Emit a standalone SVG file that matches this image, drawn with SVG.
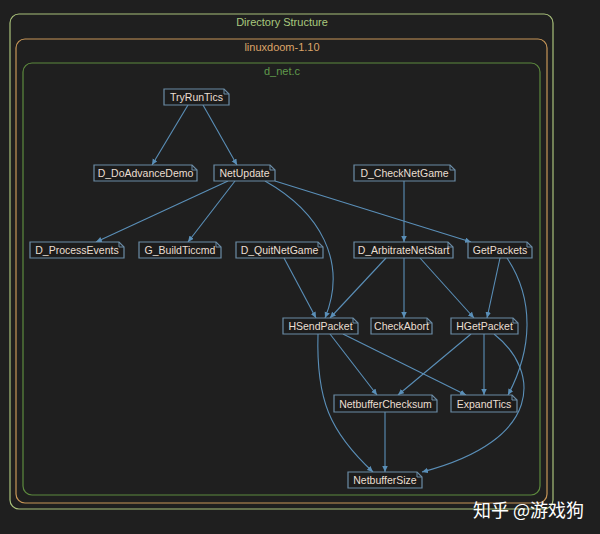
<svg xmlns="http://www.w3.org/2000/svg" width="600" height="534" viewBox="0 0 600 534">
<defs>
<style>
.bg{fill:#1f1f1f}
.cl{fill:none;stroke-width:1.2}
.ct{font-family:"Liberation Sans",Arial,sans-serif;font-size:11px;text-anchor:middle}
.nb{fill:#1c1c1c;stroke:#6b8ca6;stroke-width:1.2}
.nf{fill:none;stroke:#6b8ca6;stroke-width:1}
.nt{font-family:"Liberation Sans",Arial,sans-serif;font-size:10.5px;fill:#eadfd2;text-anchor:middle}
.e{fill:none;stroke:#5a8fb8;stroke-width:1.1;marker-end:url(#ah)}
</style>
<marker id="ah" markerUnits="userSpaceOnUse" markerWidth="7" markerHeight="6" refX="6" refY="2.75" orient="auto">
<path d="M0,0 L6,2.75 L0,5.5 z" fill="#5a8fb8"/>
</marker>
</defs>
<rect class="bg" x="0" y="0" width="600" height="534"/>
<g id="cluster-dir">
<rect class="cl" x="10" y="14" width="543" height="495" rx="9" stroke="#a8c07a"/>
<text class="ct" x="282" y="26" fill="#a9c97e">Directory Structure</text>
</g>
<g id="cluster-linuxdoom">
<rect class="cl" x="16" y="39" width="531" height="464" rx="9" stroke="#c79658"/>
<text class="ct" x="282" y="51" fill="#dca468">linuxdoom-1.10</text>
</g>
<g id="cluster-dnet">
<rect class="cl" x="23" y="63" width="517" height="432" rx="9" stroke="#5d8a3e"/>
<text class="ct" x="282" y="75" fill="#5f9a4c">d_net.c</text>
</g>
<g id="edges">
<path class="e" d="M188,105 L152,165"/>
<path class="e" d="M203,105 L237,165"/>
<path class="e" d="M228,181 L96,242"/>
<path class="e" d="M235,181 L188,242"/>
<path class="e" d="M265,181 C320,212 348,262 325,318"/>
<path class="e" d="M275,181 L471,242"/>
<path class="e" d="M404,181 L404,242"/>
<path class="e" d="M284,258 L316,318"/>
<path class="e" d="M386,258 L330,318"/>
<path class="e" d="M404,258 L404,318"/>
<path class="e" d="M420,258 L474,318"/>
<path class="e" d="M500,258 L487,318"/>
<path class="e" d="M507,258 C535,300 532,350 508,395"/>
<path class="e" d="M330,334 L377,395"/>
<path class="e" d="M343,334 L466,395"/>
<path class="e" d="M318,334 C316,400 330,432 373,472"/>
<path class="e" d="M471,334 L398,395"/>
<path class="e" d="M484,334 L484,395"/>
<path class="e" d="M494,334 C540,370 545,440 422,472"/>
<path class="e" d="M385,412 L385,472"/>
</g>
<g id="TryRunTics"><path class="nb" d="M164,89 H224 L229,94 V105 H164 Z"/><path class="nf" d="M224,89 V94 H229"/><text class="nt" x="196.5" y="101">TryRunTics</text></g>
<g id="D_DoAdvanceDemo"><path class="nb" d="M94,165 H192 L197,170 V181 H94 Z"/><path class="nf" d="M192,165 V170 H197"/><text class="nt" x="145.5" y="177">D_DoAdvanceDemo</text></g>
<g id="NetUpdate"><path class="nb" d="M214,165 H270 L275,170 V181 H214 Z"/><path class="nf" d="M270,165 V170 H275"/><text class="nt" x="244.5" y="177">NetUpdate</text></g>
<g id="D_CheckNetGame"><path class="nb" d="M354,165 H450 L455,170 V181 H354 Z"/><path class="nf" d="M450,165 V170 H455"/><text class="nt" x="404.5" y="177">D_CheckNetGame</text></g>
<g id="D_ProcessEvents"><path class="nb" d="M30,242 H119 L124,247 V258 H30 Z"/><path class="nf" d="M119,242 V247 H124"/><text class="nt" x="77" y="254">D_ProcessEvents</text></g>
<g id="G_BuildTiccmd"><path class="nb" d="M139,242 H216 L221,247 V258 H139 Z"/><path class="nf" d="M216,242 V247 H221"/><text class="nt" x="180" y="254">G_BuildTiccmd</text></g>
<g id="D_QuitNetGame"><path class="nb" d="M236,242 H318 L323,247 V258 H236 Z"/><path class="nf" d="M318,242 V247 H323"/><text class="nt" x="279.5" y="254">D_QuitNetGame</text></g>
<g id="D_ArbitrateNetStart"><path class="nb" d="M354,242 H448 L453,247 V258 H354 Z"/><path class="nf" d="M448,242 V247 H453"/><text class="nt" x="403.5" y="254">D_ArbitrateNetStart</text></g>
<g id="GetPackets"><path class="nb" d="M468,242 H527 L532,247 V258 H468 Z"/><path class="nf" d="M527,242 V247 H532"/><text class="nt" x="500" y="254">GetPackets</text></g>
<g id="HSendPacket"><path class="nb" d="M283,318 H353 L358,323 V334 H283 Z"/><path class="nf" d="M353,318 V323 H358"/><text class="nt" x="320.5" y="330">HSendPacket</text></g>
<g id="CheckAbort"><path class="nb" d="M371,318 H427 L432,323 V334 H371 Z"/><path class="nf" d="M427,318 V323 H432"/><text class="nt" x="401.5" y="330">CheckAbort</text></g>
<g id="HGetPacket"><path class="nb" d="M451,318 H513 L518,323 V334 H451 Z"/><path class="nf" d="M513,318 V323 H518"/><text class="nt" x="484.5" y="330">HGetPacket</text></g>
<g id="NetbufferChecksum"><path class="nb" d="M334,395 H432 L437,400 V412 H334 Z"/><path class="nf" d="M432,395 V400 H437"/><text class="nt" x="385.5" y="407.5">NetbufferChecksum</text></g>
<g id="ExpandTics"><path class="nb" d="M451,395 H512 L517,400 V412 H451 Z"/><path class="nf" d="M512,395 V400 H517"/><text class="nt" x="484" y="407.5">ExpandTics</text></g>
<g id="NetbufferSize"><path class="nb" d="M348,472 H417 L422,477 V488 H348 Z"/><path class="nf" d="M417,472 V477 H422"/><text class="nt" x="385" y="484">NetbufferSize</text></g>
<text x="473" y="517" font-family="'Noto Sans CJK SC',sans-serif" font-size="18" fill="#ffffff">知乎 @游戏狗</text>
</svg>
